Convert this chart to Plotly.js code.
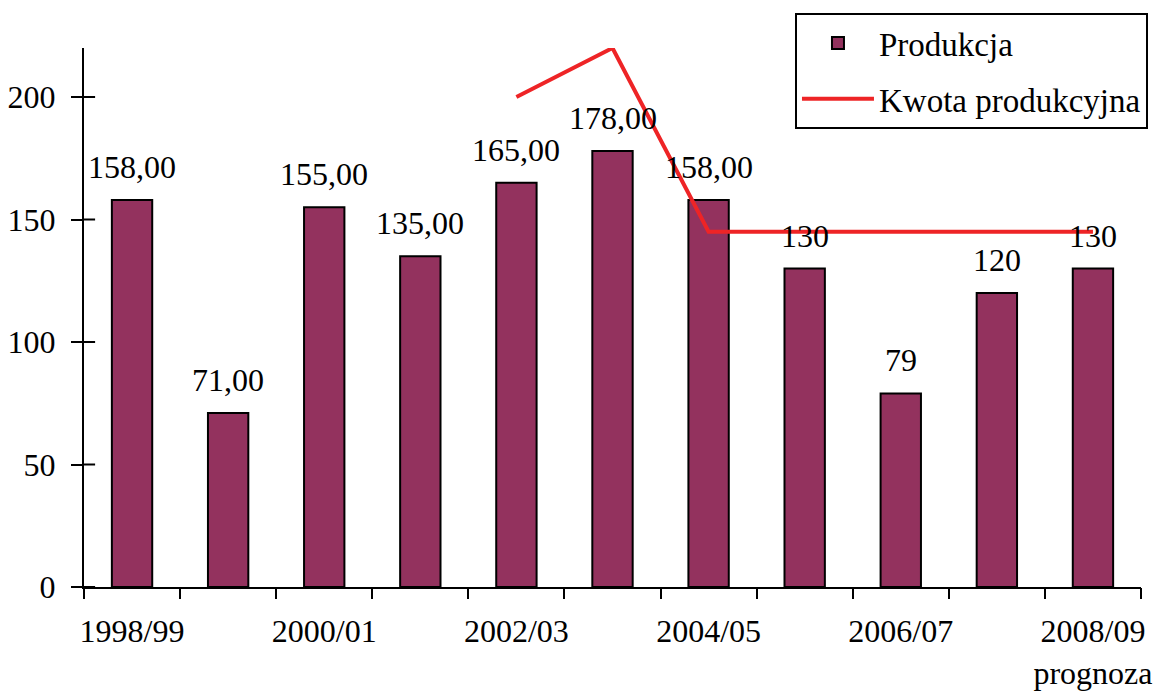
<!DOCTYPE html>
<html>
<head>
<meta charset="utf-8">
<script src="https://cdn.plot.ly/plotly-3.0.1.min.js"></script>
<style>html,body{margin:0;padding:0;background:#fff;}#chart{width:1156px;height:691px;}</style>
</head>
<body>
<div id="chart"></div>
<script>
const categories = ["1998/99","1999/00","2000/01","2001/02","2002/03","2003/04","2004/05","2005/06","2006/07","2007/08","2008/09"];
const produkcja = [158, 71, 155, 135, 165, 178, 158, 130, 79, 120, 130];
const produkcjaLabels = ["158,00","71,00","155,00","135,00","165,00","178,00","158,00","130","79","120","130"];
const kwotaCategories = ["2002/03","2003/04","2004/05","2005/06","2006/07","2007/08","2008/09"];
const kwota = [200, 220, 145, 145, 145, 145, 145];
const tickCategories = ["1998/99","2000/01","2002/03","2004/05","2006/07","2008/09"];
const tickLabels = ["1998/99","2000/01","2002/03","2004/05","2006/07","2008/09<br>prognoza"];
const yTicks = [0, 50, 100, 150, 200];

const FONT = "Liberation Serif, Times New Roman, serif";
const FS = 32;

const traces = [
  {
    type: "bar", name: "Produkcja", x: categories, y: produkcja,
    width: 0.42,
    marker: {color: "#93325E", line: {color: "#000", width: 2}},
    legendgroup: "a", hoverinfo: "skip"
  },
  {
    type: "scatter", mode: "lines", name: "Kwota produkcyjna",
    x: kwotaCategories, y: kwota,
    line: {color: "#EE2426", width: 4},
    cliponaxis: false, legendgroup: "b", hoverinfo: "skip"
  },
  {
    type: "scatter", x: [], y: [], xaxis: "x2", yaxis: "y",
    showlegend: false, hoverinfo: "skip"
  }
];

const annotations = categories.map((c, i) => ({
  x: c, y: produkcja[i], xref: "x", yref: "y",
  text: produkcjaLabels[i], showarrow: false,
  yanchor: "bottom", yshift: 13,
  font: {family: FONT, size: FS, color: "#000"}
}));

// inner half of the y-axis tick marks (the ticks cross the axis line)
const shapes = yTicks.map(v => ({
  type: "line", xref: "paper", yref: "y",
  x0: 0, x1: 0.0105, y0: v, y1: v,
  line: {color: "#000000", width: 2}, layer: "above"
}));

const layout = {
  width: 1156, height: 691,
  margin: {l: 84, r: 15, t: 48, b: 104, autoexpand: false},
  paper_bgcolor: "#fff", plot_bgcolor: "#fff",
  font: {family: FONT, size: FS, color: "#000"},
  bargap: 0.58,
  xaxis: {
    type: "category", range: [-0.5, 10.5],
    tickmode: "array", tickvals: tickCategories, ticktext: tickLabels,
    ticks: "", showline: true, linecolor: "#000", linewidth: 2,
    showgrid: false, zeroline: false, ticklabelstandoff: 15,
    tickfont: {family: FONT, size: FS, color: "#000"}
  },
  xaxis2: {
    overlaying: "x", anchor: "y", range: [-0.5, 10.5],
    tickmode: "linear", tick0: -0.5, dtick: 1,
    ticks: "outside", ticklen: 11, tickwidth: 2, tickcolor: "#000",
    showticklabels: false, showline: false, showgrid: false, zeroline: false
  },
  yaxis: {
    range: [0, 220], tickmode: "array", tickvals: yTicks,
    ticks: "outside", ticklen: 11, tickwidth: 2, tickcolor: "#000",
    showline: true, linecolor: "#000", linewidth: 2,
    showgrid: false, zeroline: false, ticklabelstandoff: 9,
    tickfont: {family: FONT, size: FS, color: "#000"}
  },
  legend: {
    x: 1.0066, xanchor: "right", y: 1.065, yanchor: "top",
    bgcolor: "#fff", bordercolor: "#000", borderwidth: 2,
    font: {family: FONT, size: FS + 1, color: "#000"},
    traceorder: "grouped", tracegroupgap: 10, itemwidth: 72
  },
  shapes: shapes,
  annotations: annotations,
  showlegend: true
};

Plotly.newPlot("chart", traces, layout, {staticPlot: true, displayModeBar: false});
</script>
</body>
</html>
